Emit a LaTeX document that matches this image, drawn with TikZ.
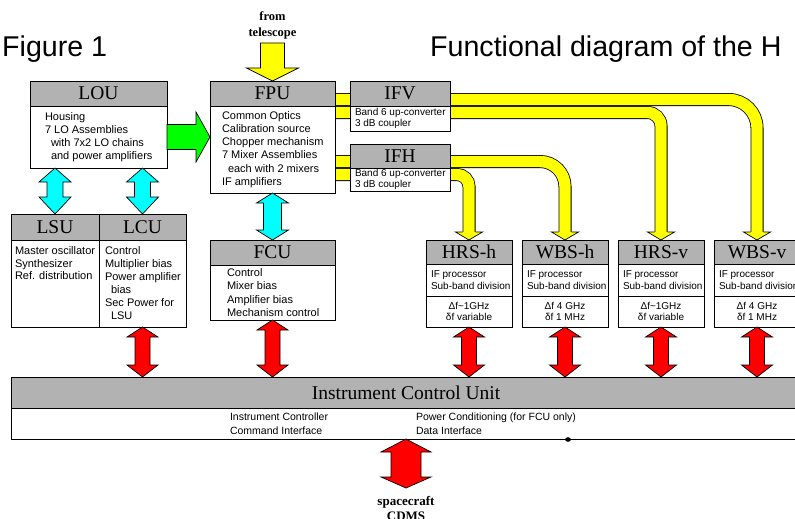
\documentclass[tikz,border=0pt]{standalone}
\usepackage{fontspec}
\setmainfont{Liberation Serif}
\setsansfont{Liberation Sans}
\usetikzlibrary{calc,backgrounds}
\definecolor{hdrgray}{RGB}{178,178,178}
\definecolor{arrgreen}{RGB}{0,255,0}
\definecolor{arrcyan}{RGB}{0,255,255}
\definecolor{arrred}{RGB}{255,0,0}
\definecolor{arryellow}{RGB}{255,255,0}
% vertical double arrow: #1 colour, #2 top point, #3 bottom point, #4 shaft half width, #5 head half width, #6 top head height, #7 bottom head height
\newcommand\dblarr[7]{%
  \filldraw[arrowbody, fill=#1] (#2) -- ($(#2)+(#5,#6)$) -- ($(#2)+(#4,#6)$) -- ($(#3)+(#4,-#7)$) -- ($(#3)+(#5,-#7)$) -- (#3) -- ($(#3)+(-#5,-#7)$) -- ($(#3)+(-#4,-#7)$) -- ($(#2)+(-#4,#6)$) -- ($(#2)+(-#5,#6)$) -- cycle;}
% yellow IF tube: #1 start, #2 target point, #3 corner radius
\newcommand\tubearr[3]{%
  \draw[tubeout, rounded corners=#3] (#1) -| ($(#2)+(0,-8)$);
  \draw[tubein, rounded corners=#3] (#1) -| ($(#2)+(0,-8)$);
  \filldraw[arrowbody, fill=arryellow] ($(#2)+(-6.5,-8)$) -- ($(#2)+(-13.5,-8)$) -- (#2) -- ($(#2)+(13.5,-8)$) -- ($(#2)+(6.5,-8)$);}
% spectrometer box: #1 name, #2 x, #3 title, #4 line1, #5 line2
\newcommand\specbox[5]{%
  \node[hdr, minimum width=86pt, minimum height=24pt] (#1) at (#2,240) {#3};
  \node[bodybox, minimum width=86pt, minimum height=32pt] (#1b) at (#1.south west) {};
  \node[bodybox, minimum width=86pt, minimum height=31pt] (#1c) at (#1b.south west) {};
  \node[stxt, font=\sffamily\fontsize{10}{12}\selectfont] (#1t) at ($(#1b.west)+(5,0)$) {IF processor\\Sub-band division};
  \node[ctxt] (#1d) at (#1c.center) {#4\\#5};}
\begin{document}
\begin{tikzpicture}[x=1pt,y=-1pt,
  hdr/.style={draw, line width=0.7pt, fill=hdrgray, inner sep=0pt, outer sep=0pt, anchor=north west, font=\fontsize{19.5}{22}\selectfont},
  bodybox/.style={draw, line width=0.7pt, fill=white, inner sep=0pt, outer sep=0pt, anchor=north west},
  txt/.style={inner sep=0pt, outer sep=0pt, align=left, anchor=west, font=\sffamily\fontsize{11}{13}\selectfont},
  stxt/.style={txt, font=\sffamily\fontsize{10}{11}\selectfont},
  ctxt/.style={inner sep=0pt, outer sep=0pt, align=center, font=\sffamily\fontsize{10}{11}\selectfont},
  btxt/.style={inner sep=0pt, outer sep=0pt, align=center, font=\bfseries\fontsize{12.5}{16.2}\selectfont},
  arrowbody/.style={draw=black, line width=0.7pt, line join=miter},
  tubeout/.style={draw=black, line width=13pt},
  tubein/.style={draw=arryellow, line width=11.4pt},
]
\useasboundingbox (0,0) rectangle (795,519);

% titles
\node[inner sep=0pt, anchor=base west, font=\sffamily\fontsize{28.6}{32}\selectfont] (fig) at (2,57) {Figure 1};
\node[inner sep=0pt, anchor=base west, font=\sffamily\fontsize{28.6}{32}\selectfont] (ftitle) at (430,57) {Functional diagram of the H};

% LOU
\node[hdr, minimum width=137pt, minimum height=25pt] (lou) at (30,81) {LOU};
\node[bodybox, minimum width=137pt, minimum height=62pt] (loub) at (lou.south west) {};
\node[txt] (lout) at ($(loub.west)+(15,0)$) {Housing\\7 LO Assemblies\\\hspace*{6pt}with 7x2 LO chains\\\hspace*{6pt}and power amplifiers};

% FPU
\node[hdr, minimum width=125pt, minimum height=25pt] (fpu) at (210,81) {FPU};
\node[bodybox, minimum width=125pt, minimum height=87pt] (fpub) at (fpu.south west) {};
\node[txt, font=\sffamily\fontsize{11}{13.2}\selectfont] (fput) at ($(fpub.west)+(12,0)$) {Common Optics\\Calibration source\\Chopper mechanism\\7 Mixer Assemblies\\\hspace*{6pt}each with 2 mixers\\IF amplifiers};

% IFV, IFH
\node[hdr, minimum width=100pt, minimum height=25pt] (ifv) at (350,81) {IFV};
\node[bodybox, minimum width=100pt, minimum height=25pt] (ifvb) at (ifv.south west) {};
\node[stxt] (ifvt) at ($(ifvb.west)+(5,0)$) {Band 6 up-converter\\3 dB coupler};
\node[hdr, minimum width=100pt, minimum height=24pt] (ifh) at (350,144) {IFH};
\node[bodybox, minimum width=100pt, minimum height=23pt] (ifhb) at (ifh.south west) {};
\node[stxt] (ifht) at ($(ifhb.west)+(5,0)$) {Band 6 up-converter\\3 dB coupler};

% LSU, LCU
\node[hdr, minimum width=88pt, minimum height=26pt] (lsu) at (11,214) {LSU};
\node[hdr, minimum width=87pt, minimum height=26pt] (lcu) at (99,214) {LCU};
\node[bodybox, minimum width=88pt, minimum height=87pt] (lsub) at (lsu.south west) {};
\node[bodybox, minimum width=87pt, minimum height=87pt] (lcub) at (lcu.south west) {};
\node[txt, anchor=north west, font=\sffamily\fontsize{11}{12.5}\selectfont] (lsut) at ($(lsub.north west)+(4,7)$) {Master oscillator\\Synthesizer\\Ref. distribution};
\node[txt] (lcut) at ($(lcub.west)+(6,0)$) {Control\\Multiplier bias\\Power amplifier\\\hspace*{6pt}bias\\Sec Power for\\\hspace*{6pt}LSU};

% FCU
\node[hdr, minimum width=125pt, minimum height=25pt] (fcu) at (210,240) {FCU};
\node[bodybox, minimum width=125pt, minimum height=55pt] (fcub) at (fcu.south west) {};
\node[txt, font=\sffamily\fontsize{11}{13.3}\selectfont] (fcut) at ($(fcub.west)+(17,0)$) {Control\\Mixer bias\\Amplifier bias\\Mechanism control};

% spectrometers
\specbox{hrsh}{426}{HRS-h}{Δf\textasciitilde1GHz}{δf variable}
\specbox{wbsh}{522}{WBS-h}{Δf 4 GHz}{δf 1 MHz}
\specbox{hrsv}{618}{HRS-v}{Δf\textasciitilde1GHz}{δf variable}
\specbox{wbsv}{714}{WBS-v}{Δf 4 GHz}{δf 1 MHz}

% ICU
\node[hdr, minimum width=790pt, minimum height=31pt] (icu) at (11,377) {Instrument Control Unit};
\node[bodybox, minimum width=790pt, minimum height=31pt] (icub) at (icu.south west) {};
\node[txt, font=\sffamily\fontsize{10.5}{14}\selectfont] (icut1) at ($(icub.west)+(219,0)$) {Instrument Controller\\Command Interface};
\node[txt, font=\sffamily\fontsize{10.5}{14}\selectfont] (icut2) at ($(icub.west)+(405,0)$) {Power Conditioning (for FCU only)\\Data Interface};
\fill (568,439.5) ellipse [x radius=3pt, y radius=2.3pt];

% background layer: white page and IF tubes
\begin{pgfonlayer}{background}
\fill[white] (0,0) rectangle (795,519);
\coordinate (ta) at ($(fpu.east |- ifv.south)+(0,-6.5)$);
\coordinate (tb) at ($(fpu.east |- ifv.south)+(0,6.5)$);
\coordinate (tc) at ($(fpu.east |- ifh.south)+(0,-6.5)$);
\coordinate (td) at ($(fpu.east |- ifh.south)+(0,6.5)$);
\tubearr{ta}{wbsv.north}{28.5pt}
\tubearr{tb}{hrsv.north}{13.5pt}
\tubearr{tc}{wbsh.north}{25pt}
\tubearr{td}{hrsh.north}{12pt}
\end{pgfonlayer}

% telescope input
\coordinate (tel) at ($(fpu.north)+(0,-38)$);
\filldraw[arrowbody, fill=arryellow] ($(tel)+(-12,0)$) -- ($(tel)+(12,0)$) -- ($(fpu.north)+(12,-13)$) -- ($(fpu.north)+(26,-13)$) -- (fpu.north) -- ($(fpu.north)+(-26,-13)$) -- ($(fpu.north)+(-12,-13)$) -- cycle;
\node[btxt] (fromtel) at ($(tel)+(0,-17.3)$) {from\\telescope};

% LOU -> FPU
\coordinate (gtip) at (fpub.west |- loub.east);
\filldraw[arrowbody, fill=arrgreen] ($(loub.east)+(0,-12.5)$) -- ($(gtip)+(-14,-12.5)$) -- ($(gtip)+(-14,-25)$) -- (gtip) -- ($(gtip)+(-14,25)$) -- ($(gtip)+(-14,12.5)$) -- ($(loub.east)+(0,12.5)$) -- cycle;

% cyan links
\coordinate (c1) at (lsu.north |- loub.south);
\coordinate (c2) at (lcu.north |- loub.south);
\dblarr{arrcyan}{c1}{lsu.north}{8}{16}{14}{17}
\dblarr{arrcyan}{c2}{lcu.north}{8}{16}{14}{17}
\dblarr{arrcyan}{fpub.south}{fcu.north}{9}{16}{10}{10}

% red links to ICU
\coordinate (r1) at (lcub.south |- icu.north);
\coordinate (r2) at (fcub.south |- icu.north);
\coordinate (r3) at (hrshc.south |- icu.north);
\coordinate (r4) at (wbshc.south |- icu.north);
\coordinate (r5) at (hrsvc.south |- icu.north);
\coordinate (r6) at (wbsvc.south |- icu.north);
\dblarr{arrred}{lcub.south}{r1}{7.5}{15.5}{10}{12}
\dblarr{arrred}{fcub.south}{r2}{7.5}{15.5}{10}{12}
\dblarr{arrred}{hrshc.south}{r3}{7.5}{15.5}{10}{12}
\dblarr{arrred}{wbshc.south}{r4}{7.5}{15.5}{10}{12}
\dblarr{arrred}{hrsvc.south}{r5}{7.5}{15.5}{10}{12}
\dblarr{arrred}{wbsvc.south}{r6}{7.5}{15.5}{10}{12}

% spacecraft link
\coordinate (sc) at ($(icub.south)+(0,49)$);
\dblarr{arrred}{icub.south}{sc}{15}{25}{13}{11}
\node[btxt, anchor=north, font=\bfseries\fontsize{13}{15.3}\selectfont] (cdms) at ($(sc)+(0,8)$) {spacecraft\\CDMS};
\end{tikzpicture}
\end{document}
